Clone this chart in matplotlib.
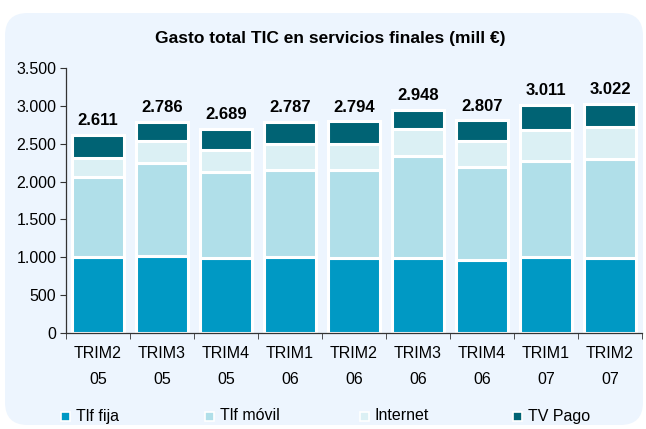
import matplotlib.pyplot as plt
from matplotlib.patches import FancyBboxPatch, Rectangle
import numpy as np

# -------------------------------------------
# data (mill EUR)
periodos = ['TRIM2\n05', 'TRIM3\n05', 'TRIM4\n05', 'TRIM1\n06', 'TRIM2\n06',
            'TRIM3\n06', 'TRIM4\n06', 'TRIM1\n07', 'TRIM2\n07']
tlf_fija = [1000, 1020, 985, 1000, 985, 985, 965, 1000, 985]
tlf_movil = [1060, 1230, 1140, 1150, 1165, 1350, 1225, 1270, 1310]
internet = [250, 285, 290, 345, 345, 365, 350, 410, 425]
tv_pago = [301, 251, 274, 292, 299, 248, 267, 331, 302]
totales = [2611, 2786, 2689, 2787, 2794, 2948, 2807, 3011, 3022]

series = ['Tlf fija', 'Tlf móvil', 'Internet', 'TV Pago']
colores = ['#0099c4', '#b0dfe9', '#dbf0f4', '#006374']
yticks = [0, 500, 1000, 1500, 2000, 2500, 3000, 3500]
# -------------------------------------------

plt.rcParams['font.family'] = ['Liberation Sans', 'DejaVu Sans']

fig = plt.figure(figsize=(6.46, 4.29), dpi=100)
fig.patch.set_facecolor('white')

# light blue rounded panel behind everything
panel = FancyBboxPatch((5 / 646, 4 / 429), 638 / 646, (425 - 13) / 429,
                       boxstyle='round,pad=0,rounding_size=0.035',
                       mutation_aspect=646 / 429,
                       transform=fig.transFigure, facecolor='#edf5fe',
                       edgecolor='none', zorder=-5)
fig.patches.append(panel)

ax = fig.add_axes([66 / 646, 96 / 429, 576 / 646, 265 / 429])
ax.set_facecolor('none')

x = np.arange(len(periodos))
bottom = np.zeros(len(periodos))
for vals, col in zip([tlf_fija, tlf_movil, internet, tv_pago], colores):
    ax.bar(x, vals, 0.8, bottom=bottom, color=col, edgecolor='white',
           linewidth=2.2, zorder=2)
    bottom += np.array(vals)

# total labels above each bar
for xi, tot, b in zip(x, totales, bottom):
    txt = '{:,}'.format(tot).replace(',', '.')
    ax.annotate(txt, (xi, b), xytext=(0, 5), textcoords='offset points',
                ha='center', va='bottom', fontsize=12, fontweight='bold')

ax.set_xlim(-0.5, len(periodos) - 0.5)
ax.set_ylim(0, 3500)
ax.set_yticks(yticks)
ax.set_yticklabels(['{:,}'.format(v).replace(',', '.') for v in yticks], fontsize=11.5)

ax.set_xticks(x)
ax.set_xticklabels(periodos, fontsize=11.5, linespacing=1.95)
ax.set_xticks(np.arange(len(periodos) + 1) - 0.5, minor=True)
ax.tick_params(axis='x', which='major', length=0, pad=9)
ax.tick_params(axis='x', which='minor', length=4, color='#333333')
ax.tick_params(axis='y', length=4, color='#333333', pad=3)

for s in ['top', 'right']:
    ax.spines[s].set_visible(False)
for s in ['left', 'bottom']:
    ax.spines[s].set_color('#333333')
    ax.spines[s].set_linewidth(0.9)

fig.text(330 / 646, 1 - 38 / 429, 'Gasto total TIC en servicios finales (mill €)',
         ha='center', va='center', fontsize=12.5, fontweight='bold')

# legend across the bottom
leg_x = [61, 205, 360, 513]
for lx, nombre, col in zip(leg_x, series, colores):
    fig.patches.append(Rectangle((lx / 646, (429 - 421) / 429), 9 / 646, 9 / 429,
                                 transform=fig.transFigure, facecolor=col,
                                 edgecolor='white', linewidth=1.2, zorder=3))
    fig.text((lx + 15) / 646, (429 - 416) / 429, nombre, ha='left', va='center',
             fontsize=11.5)

fig.savefig('out.png', dpi=100, facecolor=fig.get_facecolor())
